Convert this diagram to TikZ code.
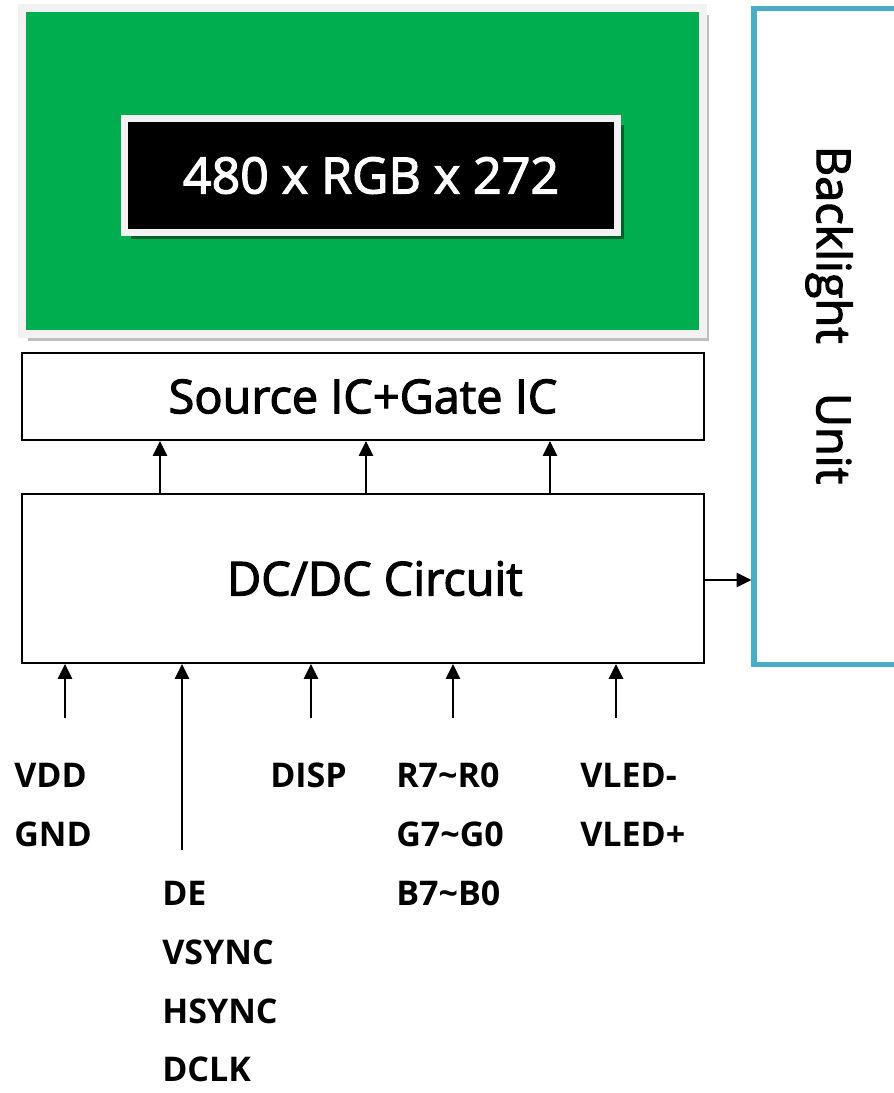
\documentclass[tikz,border=0pt]{standalone}
\usepackage{fontspec}
\setmainfont{Open Sans}
\newfontface\midfont{Open Sans}[FakeBold=2.5]
\usetikzlibrary{arrows.meta, shadows}
\definecolor{lcdgreen}{RGB}{0, 174, 80}
\definecolor{framegray}{RGB}{242, 242, 242}
\definecolor{blcyan}{RGB}{75, 172, 198}

\begin{document}
\begin{tikzpicture}[
  x=0.025cm, y=-0.025cm,
  box/.style={draw, line width=1.4pt, minimum width=17.05cm, inner sep=0pt, font=\midfont\fontsize{33.3}{40}\selectfont},
  arr/.style={-{Triangle[length=10.5pt, width=10pt]}, line width=1.4pt},
  sig/.style={anchor=north west, align=left, inner sep=0pt, font=\bfseries\fontsize{24.2}{41.8}\selectfont},
]
  \useasboundingbox (0,0) rectangle (894,1093);

  % panel
  \node[draw=framegray, line width=5.7pt, fill=lcdgreen, minimum width=17.025cm, minimum height=8.15cm,
        general shadow={fill=black!25, shadow xshift=4.3pt, shadow yshift=-5pt}] (lcd) at (362.5,171) {};
  \node[draw=framegray, line width=5pt, fill=black, text=white, minimum width=12.325cm, minimum height=2.85cm,
        font=\midfont\fontsize{35.6}{40}\selectfont,
        general shadow={fill=black!45!lcdgreen, shadow xshift=4.6pt, shadow yshift=-4.6pt}] (res) at (371,175.5) {480 x RGB x 272\hspace{7pt}};

  % driver blocks
  \node[box, minimum height=2.175cm] (src) at (363,396.5) {Source IC+Gate IC\hspace{8pt}};
  \node[box, minimum height=4.225cm] (dcdc) at (363,578.5) {\hspace{17pt}DC/DC Circuit};
  \foreach \x in {160,366,550}
    \draw[arr] (dcdc.north -| \x,0) -- (src.south -| \x,0);

  % backlight
  \node[draw=blcyan, line width=3.6pt, minimum width=4.4cm, minimum height=16.375cm] (bl) at (842,336.5) {};
  \node[rotate=-90, font=\midfont\fontsize{33.3}{40}\selectfont] (bltxt) at (829,315) {Backlight\hspace{1.05em}Unit};
  \draw[arr] (dcdc.east |- 0,580) -- (bl.west |- 0,580);

  % inputs
  \coordinate (vddin) at (65,718);
  \coordinate (syncin) at (182,850);
  \coordinate (dispin) at (311,718);
  \coordinate (rgbin) at (453,718);
  \coordinate (ledin) at (616,718);
  \foreach \c in {vddin, syncin, dispin, rgbin, ledin}
    \draw[arr] (\c) -- (dcdc.south -| \c);

  \node[sig] (pwr) at (14,763) {VDD\\GND};
  \node[sig] (sync) at (162,881) {DE\\VSYNC\\HSYNC\\DCLK};
  \node[sig] (disp) at (270,763) {DISP};
  \node[sig] (rgb) at (396,763) {R7\textasciitilde R0\\G7\textasciitilde G0\\B7\textasciitilde B0};
  \node[sig] (led) at (580,763) {VLED-\\VLED+};
\end{tikzpicture}
\end{document}
